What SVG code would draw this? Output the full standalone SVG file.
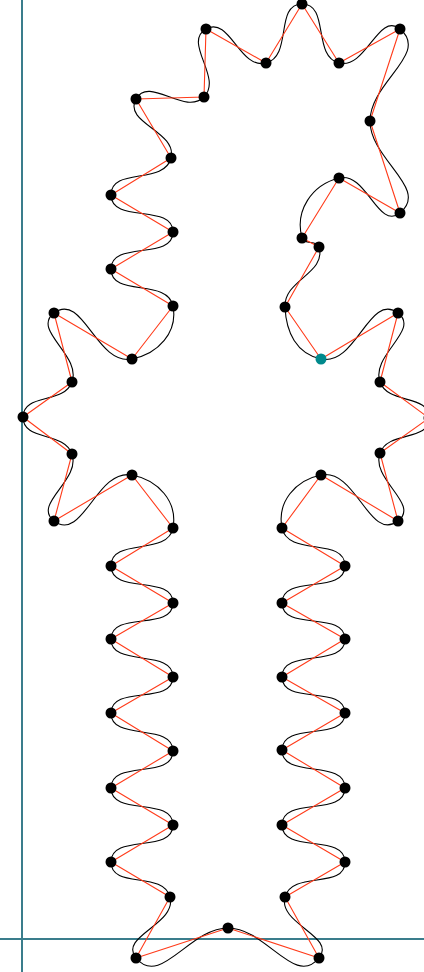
<svg xmlns="http://www.w3.org/2000/svg" width="424" height="972" viewBox="0 0 424 972">
<style>
.axis{stroke:#3a7d8c;stroke-width:2;fill:none}
.poly{stroke:#ff3b1a;stroke-width:1.1;fill:none;stroke-linejoin:round}
.curve{stroke:#000;stroke-width:1.1;fill:none}
.pt{fill:#000}
.sel{fill:#00898c}
</style>
<rect width="424" height="972" fill="#fff"/>
<g id="axes">
<line class="axis" x1="22" y1="0" x2="22" y2="972"/>
<line class="axis" x1="0" y1="939" x2="424" y2="939"/>
</g>
<g id="connectors">
<path class="curve" d="M302,4 C329.9,3.8 312,56.1 339,63 C366.1,69.9 378.4,11.2 400,29 C429.9,53.6 370,82.3 370,121 C370,159.7 430,188.6 400,213 C378.2,230.8 366.3,171.1 339,178 C311.7,184.9 294.6,210.8 302,238 C304,245.4 316.8,239.6 319,247 C326.7,273.5 283.8,279.5 285,307 C286.1,332.3 296.3,353.6 321,359 C356.1,366.6 369.3,291.5 398,313 C420.8,330.1 370.4,355.1 380,382 C388.1,404.9 429.2,393.7 429,418 C428.8,442.1 388.2,430.3 380,453 C370.5,479.5 420.5,504.1 398,521 C369.3,542.6 356.2,467.9 321,475 C295.2,480.2 276.9,502.2 282,528 C287.7,556.9 345.2,536.6 345,566 C344.8,595.2 281.8,573.8 282,603 C282.2,632 344.7,610 345,639 C345.4,668.4 281.6,647.6 282,677 C282.3,706 344.8,684 345,713 C345.2,742.2 282.2,720.8 282,750 C281.8,779.4 345.2,758.6 345,788 C344.8,817.2 282,795.8 282,825 C282,854.2 345,832.8 345,862 C345,889.8 292.3,870.2 285,897 C277.6,923.9 336.8,936.5 319,958 C294.6,987.6 266.3,928 228,928 C189.3,928 160.6,987.9 136,958 C118.2,936.4 177.3,924 170,897 C162.9,870.5 111,889.4 111,862 C111,833.1 173,853.9 173,825 C173,796.1 111,816.9 111,788 C111,759.1 172.8,779.9 173,751 C173.2,721.9 110.7,742.1 111,713 C111.3,684.3 172.7,705.7 173,677 C173.3,647.9 110.7,668.1 111,639 C111.3,610.3 172.8,631.7 173,603 C173.2,574.1 111.2,594.9 111,566 C110.8,536.9 167.8,556.6 173,528 C177.8,501.6 158.3,480.1 132,475 C96.4,468.2 82.8,543 54,521 C31.9,504.2 81,480.3 72,454 C64,430.8 22.7,441.6 23,417 C23.3,392.9 63.8,404.6 72,382 C81.7,355.2 31.2,330.2 54,313 C82.9,291.2 96.4,365.9 132,359 C158.3,353.9 178,332.3 173,306 C167.6,277.6 111,297.9 111,269 C111,240.1 173,260.9 173,232 C173,203.1 111.2,223.9 111,195 C110.8,166.8 164.3,185.4 171,158 C177.6,131.4 122.8,123 136,99 C149.1,75.2 184.8,116.2 204,97 C223.2,77.8 182.3,42.4 206,29 C230,15.5 239.3,69.9 266,63 C292.8,56.1 274.4,4.2 302,4 Z"/>
<polygon class="poly" points="302,4 339,63 400,29 370,121 400,213 339,178 302,238 319,247 285,307 321,359 398,313 380,382 429,418 380,453 398,521 321,475 282,528 345,566 282,603 345,639 282,677 345,713 282,750 345,788 282,825 345,862 285,897 319,958 228,928 136,958 170,897 111,862 173,825 111,788 173,751 111,713 173,677 111,639 173,603 111,566 173,528 132,475 54,521 72,454 23,417 72,382 54,313 132,359 173,306 111,269 173,232 111,195 171,158 136,99 204,97 206,29 266,63"/>
</g>
<g id="points">
<circle class="pt" cx="302" cy="4" r="5.5"/>
<circle class="pt" cx="339" cy="63" r="5.5"/>
<circle class="pt" cx="400" cy="29" r="5.5"/>
<circle class="pt" cx="370" cy="121" r="5.5"/>
<circle class="pt" cx="400" cy="213" r="5.5"/>
<circle class="pt" cx="339" cy="178" r="5.5"/>
<circle class="pt" cx="302" cy="238" r="5.5"/>
<circle class="pt" cx="319" cy="247" r="5.5"/>
<circle class="pt" cx="285" cy="307" r="5.5"/>
<circle id="selected" class="sel" cx="321" cy="359" r="5.5"/>
<circle class="pt" cx="398" cy="313" r="5.5"/>
<circle class="pt" cx="380" cy="382" r="5.5"/>
<circle class="pt" cx="429" cy="418" r="5.5"/>
<circle class="pt" cx="380" cy="453" r="5.5"/>
<circle class="pt" cx="398" cy="521" r="5.5"/>
<circle class="pt" cx="321" cy="475" r="5.5"/>
<circle class="pt" cx="282" cy="528" r="5.5"/>
<circle class="pt" cx="345" cy="566" r="5.5"/>
<circle class="pt" cx="282" cy="603" r="5.5"/>
<circle class="pt" cx="345" cy="639" r="5.5"/>
<circle class="pt" cx="282" cy="677" r="5.5"/>
<circle class="pt" cx="345" cy="713" r="5.5"/>
<circle class="pt" cx="282" cy="750" r="5.5"/>
<circle class="pt" cx="345" cy="788" r="5.5"/>
<circle class="pt" cx="282" cy="825" r="5.5"/>
<circle class="pt" cx="345" cy="862" r="5.5"/>
<circle class="pt" cx="285" cy="897" r="5.5"/>
<circle class="pt" cx="319" cy="958" r="5.5"/>
<circle class="pt" cx="228" cy="928" r="5.5"/>
<circle class="pt" cx="136" cy="958" r="5.5"/>
<circle class="pt" cx="170" cy="897" r="5.5"/>
<circle class="pt" cx="111" cy="862" r="5.5"/>
<circle class="pt" cx="173" cy="825" r="5.5"/>
<circle class="pt" cx="111" cy="788" r="5.5"/>
<circle class="pt" cx="173" cy="751" r="5.5"/>
<circle class="pt" cx="111" cy="713" r="5.5"/>
<circle class="pt" cx="173" cy="677" r="5.5"/>
<circle class="pt" cx="111" cy="639" r="5.5"/>
<circle class="pt" cx="173" cy="603" r="5.5"/>
<circle class="pt" cx="111" cy="566" r="5.5"/>
<circle class="pt" cx="173" cy="528" r="5.5"/>
<circle class="pt" cx="132" cy="475" r="5.5"/>
<circle class="pt" cx="54" cy="521" r="5.5"/>
<circle class="pt" cx="72" cy="454" r="5.5"/>
<circle class="pt" cx="23" cy="417" r="5.5"/>
<circle class="pt" cx="72" cy="382" r="5.5"/>
<circle class="pt" cx="54" cy="313" r="5.5"/>
<circle class="pt" cx="132" cy="359" r="5.5"/>
<circle class="pt" cx="173" cy="306" r="5.5"/>
<circle class="pt" cx="111" cy="269" r="5.5"/>
<circle class="pt" cx="173" cy="232" r="5.5"/>
<circle class="pt" cx="111" cy="195" r="5.5"/>
<circle class="pt" cx="171" cy="158" r="5.5"/>
<circle class="pt" cx="136" cy="99" r="5.5"/>
<circle class="pt" cx="204" cy="97" r="5.5"/>
<circle class="pt" cx="206" cy="29" r="5.5"/>
<circle class="pt" cx="266" cy="63" r="5.5"/>
</g>
</svg>
